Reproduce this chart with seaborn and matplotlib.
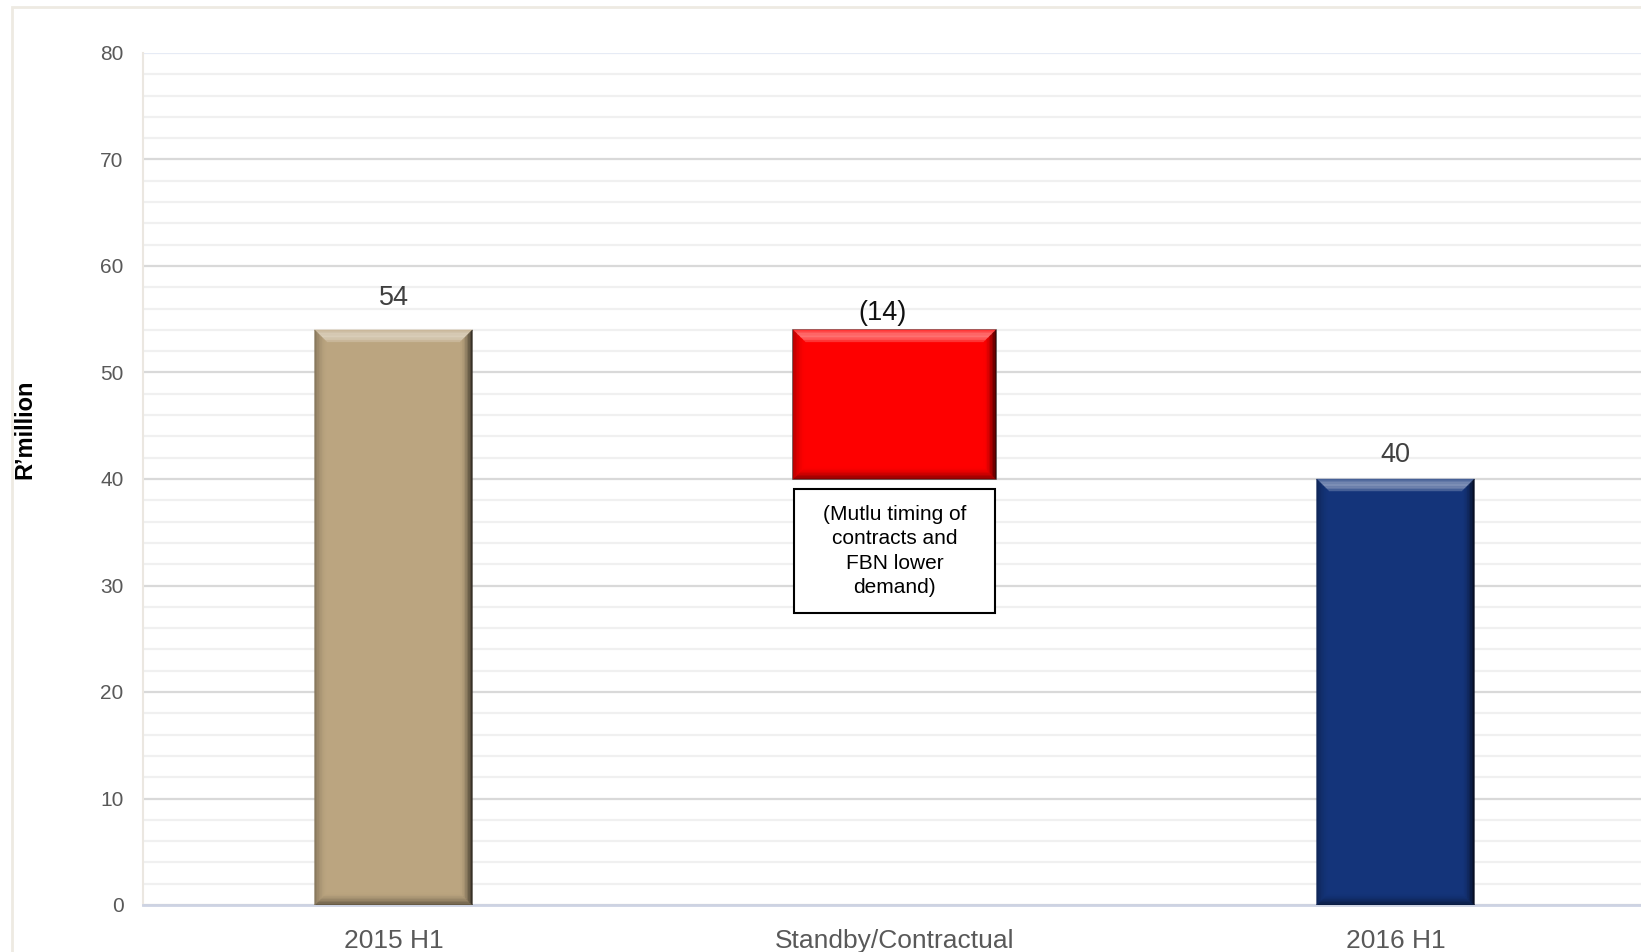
import numpy as np
import pandas as pd
import matplotlib
matplotlib.use("Agg")
import matplotlib.pyplot as plt
import seaborn as sns
from matplotlib.patches import Polygon, Rectangle
from matplotlib.colors import to_rgb

# ---- data -------------------------------------------------------------
categories = ["2015 H1", "Standby/Contractual", "2016 H1"]
opening_value = 54
change_value = -14
closing_value = 40
value_labels = ["54", "(14)", "40"]
note_text = "(Mutlu timing of\ncontracts and\nFBN lower\ndemand)"
bar_colors = ["#bba580", "#fe0000", "#14347a"]
y_major = list(range(0, 81, 10))
y_minor = list(range(0, 81, 2))

# ---- style ------------------------------------------------------------
sns.set_theme(style="white")
plt.rcParams["font.family"] = ["Liberation Sans", "DejaVu Sans"]

W, H = 1641, 952
fig = plt.figure(figsize=(W / 100, H / 100), dpi=100)
ax = fig.add_axes([143 / W, 1 - 905 / H, (1646 - 143) / W, (905 - 53) / H])

# totals as regular bars
totals = pd.DataFrame({"category": [categories[0], categories[2]],
                       "value": [opening_value, closing_value]})
sns.barplot(data=totals, x="category", y="value", order=categories,
            hue="category", palette={categories[0]: bar_colors[0],
                                     categories[2]: bar_colors[2]},
            saturation=1, width=0.315, legend=False, ax=ax, zorder=2,
            linewidth=0)

# floating change bar
delta_bottom = opening_value + min(change_value, 0)
ax.bar(1, abs(change_value), bottom=delta_bottom, width=0.405,
       color=bar_colors[1], edgecolor="#5a5a5a", linewidth=1.2, zorder=2)

ax.set_xlim(-0.5, 2.5)
ax.set_ylim(0, 80)
ax.set_yticks(y_major)
ax.set_yticks(y_minor, minor=True)
ax.grid(axis="y", which="major", color="#d9d9d9", linewidth=1.6, zorder=0)
ax.grid(axis="y", which="minor", color="#f0f0f0", linewidth=1.6, zorder=0)
ax.set_axisbelow(True)
ax.get_ygridlines()[-1].set_color("#e6ebf5")

for side in ["top", "right"]:
    ax.spines[side].set_visible(False)
ax.spines["left"].set_color("#ebe7e1")
ax.spines["left"].set_linewidth(1.5)
ax.spines["bottom"].set_color("#cdd3e3")
ax.spines["bottom"].set_linewidth(2)

ax.tick_params(axis="y", which="both", length=0, pad=14, labelsize=15,
               labelcolor="#595959")
ax.tick_params(axis="x", length=0, pad=17, labelsize=19, labelcolor="#595959")
ax.set_xlabel("")
ax.set_ylabel("")
fig.text(25 / W, 1 - 429 / H, "R\u2019million", rotation=90, fontsize=17,
         fontweight="bold", color="black", ha="center", va="center")


# ---- bevelled bar faces ----------------------------------------------
def mix(c, other, t):
    c = np.array(to_rgb(c))
    o = np.array(to_rgb(other))
    return tuple(np.clip(c * (1 - t) + o * t, 0, 1))


def bevel(patch, color, b=12, steps=8):
    x, y = patch.get_x(), patch.get_y()
    w, h = patch.get_width(), patch.get_height()
    (x0, y0), (x1, y1) = ax.transData.transform([(x, y), (x + w, y + h)])
    inv = ax.transData.inverted()
    # (side, shade colour, strength)
    sides = [("top", "white", 0.45), ("bottom", "black", 0.5),
             ("left", "black", 0.3), ("right", "black", 0.8)]
    for k in range(steps):
        d0 = b * k / steps
        d1 = b * (k + 1) / steps
        t = 1 - (k + 0.5) / steps
        for side, shade, s in sides:
            if side == "top":
                pts = [(x0 + d0, y1 - d0), (x1 - d0, y1 - d0),
                       (x1 - d1, y1 - d1), (x0 + d1, y1 - d1)]
            elif side == "bottom":
                pts = [(x0 + d0, y0 + d0), (x1 - d0, y0 + d0),
                       (x1 - d1, y0 + d1), (x0 + d1, y0 + d1)]
            elif side == "left":
                pts = [(x0 + d0, y0 + d0), (x0 + d1, y0 + d1),
                       (x0 + d1, y1 - d1), (x0 + d0, y1 - d0)]
            else:
                pts = [(x1 - d0, y0 + d0), (x1 - d1, y0 + d1),
                       (x1 - d1, y1 - d1), (x1 - d0, y1 - d0)]
            strength = s * t ** 1.6
            if side == "top":
                strength = s * (0.35 + 0.65 * np.sin(np.pi * (k + 0.5) / steps))
            fc = mix(color, shade, strength)
            ax.add_patch(Polygon(inv.transform(pts), closed=True, facecolor=fc,
                                 edgecolor=fc, linewidth=0.3, zorder=3))


bars = sorted([p for p in ax.patches if isinstance(p, Rectangle)
               and p.get_height() > 0], key=lambda p: p.get_x())
for patch, col in zip(bars, bar_colors):
    bevel(patch, col)

# ---- value labels -----------------------------------------------------
tops = [opening_value, opening_value, closing_value]
offsets = [(0, 23), (-8.5, 12), (0, 17)]
label_colors = ["#404040", "#111111", "#404040"]
for i, (lab, top, off, lc) in enumerate(zip(value_labels, tops, offsets, label_colors)):
    ax.annotate(lab, (i, top), xytext=off, textcoords="offset points",
                ha="center", va="center", fontsize=19.5, color=lc, zorder=5)

# ---- explanatory note under the change bar ----------------------------
red = bars[1]
(bx0, by0), (bx1, _) = ax.transData.transform(
    [(red.get_x(), red.get_y()), (red.get_x() + red.get_width(), red.get_y())])
inv = ax.transData.inverted()
(nx0, ny1), (nx1, ny0) = inv.transform([(bx0 + 1, by0 - 10), (bx1 - 1, by0 - 134)])
ax.add_patch(Rectangle((nx0, ny0), nx1 - nx0, ny1 - ny0, facecolor="white",
                       edgecolor="black", linewidth=1.5, zorder=4))
ax.text((nx0 + nx1) / 2, (ny0 + ny1) / 2, note_text, ha="center", va="center",
        fontsize=15, linespacing=1.37, color="black", zorder=5)

# ---- outer chart frame -------------------------------------------------
fig.patches.append(Rectangle((12 / W, -0.1), 1.2, 1.1 - 7 / H,
                             transform=fig.transFigure, facecolor="none",
                             edgecolor="#eeeae2", linewidth=2))

fig.savefig("out.png", dpi=100)
